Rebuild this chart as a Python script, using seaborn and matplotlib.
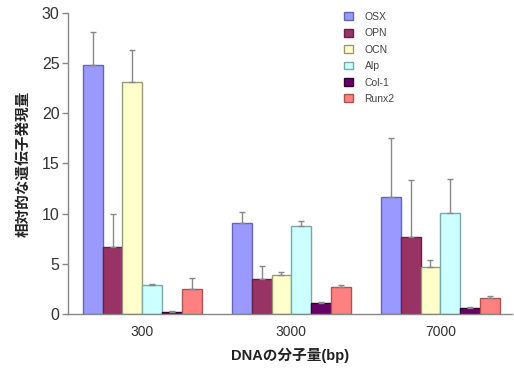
import matplotlib
matplotlib.use("Agg")
import matplotlib.pyplot as plt
import seaborn as sns
import pandas as pd
import numpy as np

sizes = ["300", "3000", "7000"]
genes = ["OSX", "OPN", "OCN", "Alp", "Col-1", "Runx2"]
colors = ["#9999FF", "#993366", "#FFFFCC", "#CCFFFF", "#660066", "#FF8080"]
edge_colors = ["#6666AA", "#662244", "#999977", "#77AAAA", "#330033", "#AA5555"]

# mean values per gene, for sizes 300 / 3000 / 7000
means = {
    "OSX":   [24.8, 9.1, 11.7],
    "OPN":   [6.7, 3.5, 7.7],
    "OCN":   [23.1, 3.9, 4.7],
    "Alp":   [2.9, 8.8, 10.1],
    "Col-1": [0.25, 1.1, 0.6],
    "Runx2": [2.5, 2.7, 1.6],
}
# top of the error bar per gene
upper = {
    "OSX":   [28.1, 10.2, 17.5],
    "OPN":   [10.0, 4.8, 13.4],
    "OCN":   [26.3, 4.2, 5.4],
    "Alp":   [3.0, 9.3, 13.5],
    "Col-1": [0.3, 1.2, 0.7],
    "Runx2": [3.6, 2.9, 1.75],
}

rows = []
for g in genes:
    for i, s in enumerate(sizes):
        rows.append({"size": s, "gene": g, "value": means[g][i], "upper": upper[g][i]})
df = pd.DataFrame(rows)

sns.set_style("white")
plt.rcParams["font.family"] = ["Liberation Sans", "Noto Sans CJK JP", "DejaVu Sans"]

fig = plt.figure(figsize=(5.14, 3.69), dpi=100)
ax = fig.add_axes([0.132, 0.149, 0.864, 0.816])

sns.barplot(data=df, x="size", y="value", hue="gene", order=sizes, hue_order=genes,
            palette=colors, width=0.8, errorbar=None, ax=ax, saturation=1,
            edgecolor="#666666", linewidth=1.0, legend=True)

# error bars (upward only)
for hi, g in enumerate(genes):
    cont = ax.containers[hi]
    for bi, bar in enumerate(cont):
        x = bar.get_x() + bar.get_width() / 2
        m = means[g][bi]
        u = upper[g][bi]
        ax.errorbar(x, m, yerr=[[0], [u - m]], fmt="none", ecolor="#888888",
                    elinewidth=1.0, capsize=2.5, capthick=1.0)
    for bar in cont:
        bar.set_edgecolor(edge_colors[hi])

ax.set_ylim(0, 30)
ax.set_xlim(-0.5, 2.48)
ax.set_yticks([0, 5, 10, 15, 20, 25, 30])
ax.tick_params(axis="y", direction="out", length=4, width=1, color="#888888",
               labelsize=11.5, labelcolor="#333333", left=True, pad=2)
ax.tick_params(axis="x", length=0, labelsize=10, labelcolor="#333333", pad=8)

for sp in ["top", "right"]:
    ax.spines[sp].set_visible(False)
for sp in ["left", "bottom"]:
    ax.spines[sp].set_color("#888888")
    ax.spines[sp].set_linewidth(1.0)

ax.set_xlabel("DNAの分子量(bp)", fontsize=10.5, fontweight="bold", color="#222222", labelpad=6)
ax.set_ylabel("相対的な遺伝子発現量", fontsize=10.5, fontweight="bold", color="#222222", labelpad=8)

leg = ax.legend(loc="upper left", bbox_to_anchor=(0.6, 1.035), frameon=False, fontsize=7.5,
                handlelength=0.9, handleheight=0.8, labelspacing=0.62, handletextpad=1.1)
for t in leg.get_texts():
    t.set_color("#444444")
for h, ec in zip(leg.legend_handles, edge_colors):
    h.set_edgecolor(ec)

fig.savefig("out.png", dpi=100)
